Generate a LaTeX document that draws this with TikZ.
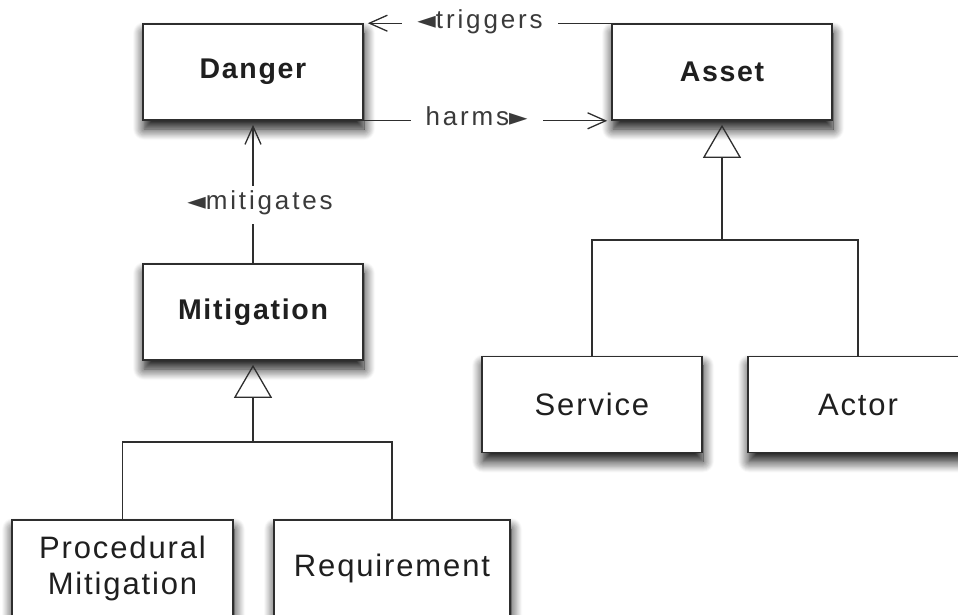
\documentclass[tikz,border=0pt]{standalone}
\usepackage{fontspec}
\usetikzlibrary{arrows.meta,shadows.blur}
\newfontfamily\boxfont{Liberation Sans}[LetterSpace=6]
\newfontfamily\lblfont{Liberation Sans}[LetterSpace=11]
\newfontfamily\symfont{DejaVu Sans}
\definecolor{ink}{HTML}{2E2E2E}
\definecolor{lbltext}{HTML}{3A3A3A}
\newcommand{\rolelefttri}{{\symfont\fontsize{24}{24}\selectfont\char"25C4}}
\newcommand{\rolerighttri}{{\symfont\fontsize{24}{24}\selectfont\char"25BA}}

\begin{document}
\begin{tikzpicture}[x=1pt,y=-1pt,
  cls/.style={draw=ink, line width=1.6pt, fill=white, inner sep=0pt,
    minimum width=220pt, minimum height=96pt, align=center, text=black!88,
    font=\boxfont\fontsize{31}{36}\selectfont,
    blur shadow={shadow xshift=1pt, shadow yshift=-9pt,
      shadow blur radius=11pt, shadow blur steps=12, shadow opacity=95}},
  abstractcls/.style={cls, font=\boxfont\bfseries\fontsize{28.5}{36}\selectfont},
  assoc/.style={draw=ink, line width=1.3pt,
    -{Straight Barb[length=18pt,width=16pt,line width=1.3pt]}, shorten >=4pt},
  gen/.style={draw=ink, line width=1.3pt,
    -{Triangle[open,length=33pt,width=38pt,line width=1.3pt]}, shorten >=4pt},
  tree/.style={draw=ink, line width=1.3pt},
  lbl/.style={fill=white, inner xsep=15pt, inner ysep=3pt, text=lbltext,
    text height=15pt, text depth=5pt,
    font=\lblfont\fontsize{26}{30}\selectfont}]

\useasboundingbox (0,0) rectangle (958,614);
\clip (0,0) rectangle (958,614);

% classes
\node[abstractcls] (danger) at (253,72) {Danger};
\node[abstractcls] (asset) at (722,72) {Asset};
\node[abstractcls] (mitig) at (253,312) {Mitigation};
\node[cls] (service) at (592,404.5) {Service};
\node[cls] (actor) at (858,404.5) {Actor};
\node[cls, minimum width=221pt] (proc) at (122.5,568) {Procedural\\Mitigation};
\node[cls, minimum width=236pt] (req) at (392,568) {Requirement};

% associations
\draw[assoc] (asset.north west) -- node[lbl, pos=0.53] {\rolelefttri triggers} (danger.north east);
\draw[assoc] (danger.south east) -- node[lbl, pos=0.456] {harms\rolerighttri} (asset.south west);
\draw[assoc] (mitig.north) -- node[lbl, pos=0.41, xshift=7pt, inner ysep=9pt] {\rolelefttri mitigates} (danger.south);

% generalisation of Asset
\coordinate (aj) at (722,240);
\draw[tree] (service.north) |- (actor.north |- aj) -- (actor.north);
\draw[gen] (aj) -- (asset.south);

% generalisation of Mitigation
\coordinate (mj) at (253,442);
\draw[tree] (proc.north) |- (req.north |- mj) -- (req.north);
\draw[gen] (mj) -- (mitig.south);

\end{tikzpicture}
\end{document}
